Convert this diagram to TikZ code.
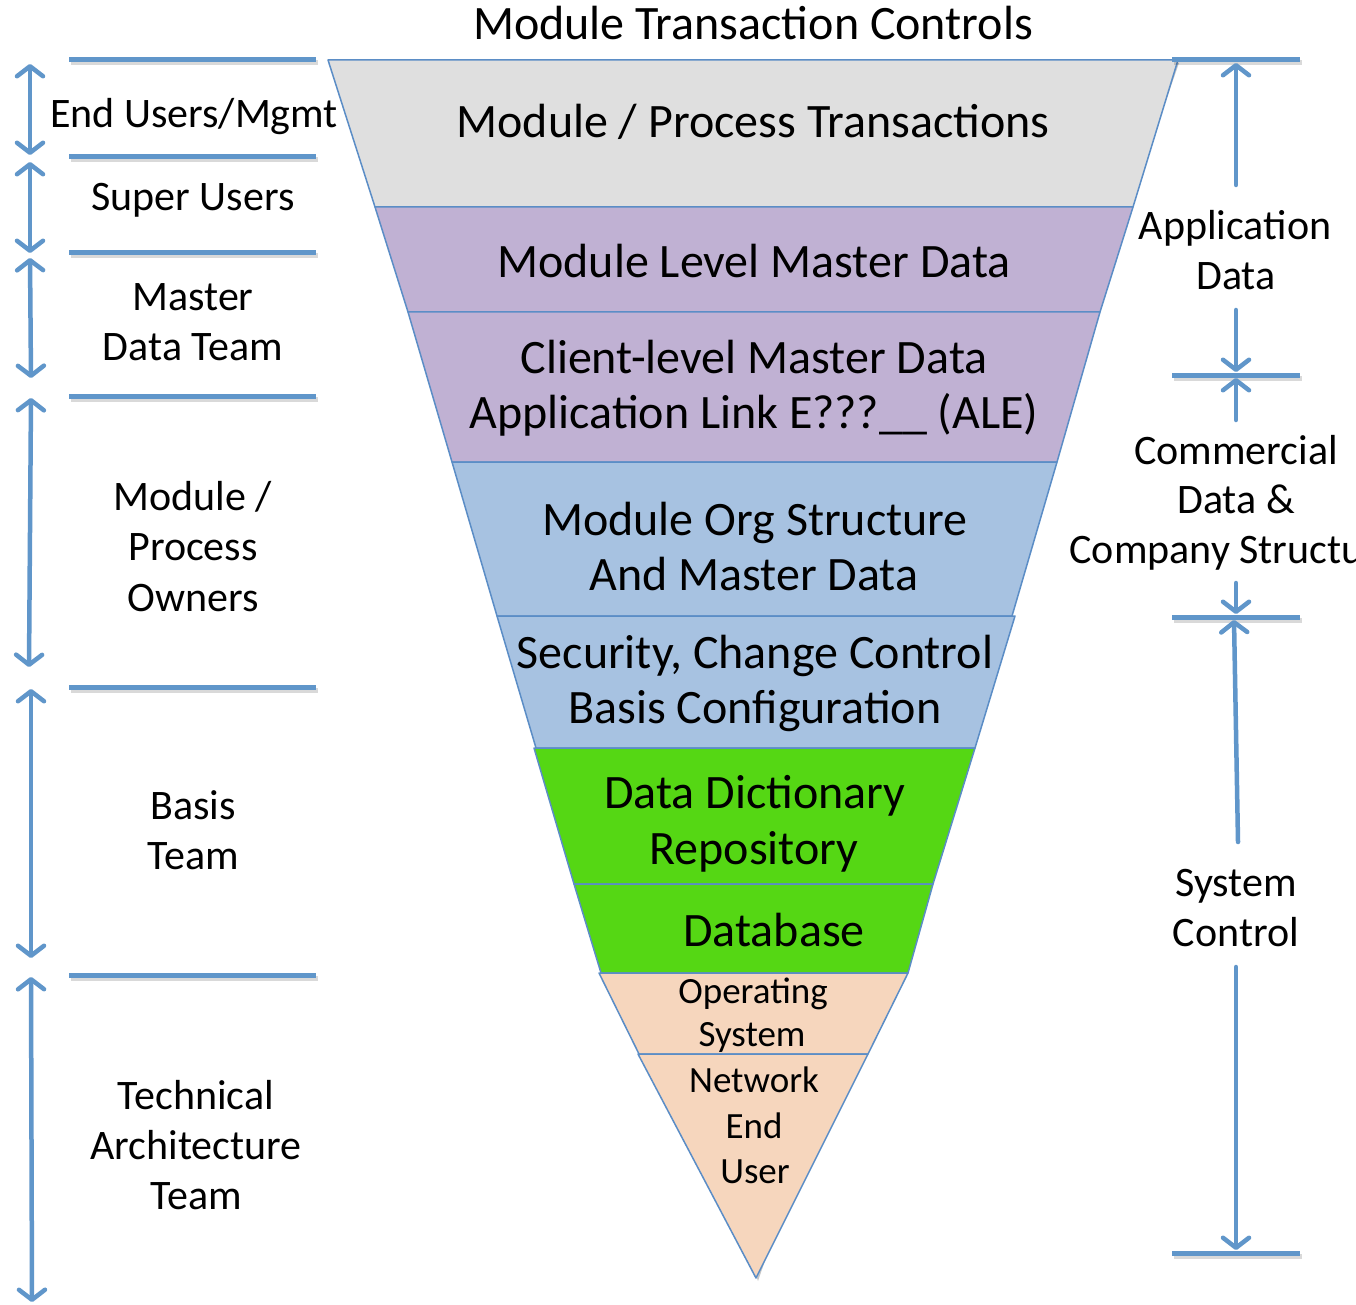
\documentclass[tikz,border=0pt]{standalone}
\usepackage{fontspec}
\setmainfont{Carlito}
\usetikzlibrary{arrows.meta}
\definecolor{lineblue}{HTML}{6096CA}
\definecolor{edgeblue}{HTML}{5B8DC6}
\definecolor{layergray}{HTML}{DFDFDF}
\definecolor{layerpurple}{HTML}{C0B1D3}
\definecolor{layerblue}{HTML}{A7C2E1}
\definecolor{layergreen}{HTML}{55D714}
\definecolor{layerpeach}{HTML}{F6D6BD}
\tikzset{
  layer/.style={draw=edgeblue, line width=1.5pt, line join=round},
  bar/.style={draw=lineblue, line width=5pt},
  barshade/.style={draw=black, opacity=0.15, line width=5pt},
  dimline/.style={draw=lineblue, line width=4.5pt, line cap=round},
  big/.style={anchor=base, inner sep=0pt, font=\fontsize{48}{56}\selectfont},
  side/.style={anchor=base, inner sep=0pt, font=\fontsize{42}{50}\selectfont},
  small/.style={anchor=base, inner sep=0pt, font=\fontsize{37}{45}\selectfont},
  >={Straight Barb[length=10pt,width=26pt,line cap=round,line join=round]}
}
\begin{document}
\begin{tikzpicture}[x=1pt,y=-1pt]
\useasboundingbox (0,0) rectangle (1356,1305);
\fill[white] (0,0) rectangle (1356,1305);

% shadow of the funnel
\fill[black, opacity=0.22] (333,63) -- (1179,63) -- (758,1281) -- cycle;

% layers
\filldraw[layer, fill=layergray]   (328,60) -- (1178,60) -- (1133,207) -- (375,207) -- cycle;
\filldraw[layer, fill=layerpurple] (375,207) -- (1133,207) -- (1100,312) -- (408,312) -- cycle;
\filldraw[layer, fill=layerpurple] (408,312) -- (1100,312) -- (1057,462) -- (452,462) -- cycle;
\filldraw[layer, fill=layerblue]   (452,462) -- (1057,462) -- (1012,616) -- (497,616) -- cycle;
\filldraw[layer, fill=layerblue]   (497,616) -- (1015,616) -- (975,748) -- (536,748) -- cycle;
\filldraw[layer, fill=layergreen]  (534,748) -- (975,748) -- (933,884) -- (574,884) -- cycle;
\filldraw[layer, fill=layergreen]  (574,884) -- (933,884) -- (908,973) -- (601,973) -- cycle;
\filldraw[layer, fill=layerpeach]  (599,973) -- (908,973) -- (868,1054) -- (639,1054) -- cycle;
\filldraw[layer, fill=layerpeach]  (638,1054) -- (868,1054) -- (756,1278) -- cycle;

% title
\node[big] (title) at (753,40) {Module Transaction Controls};

% layer texts
\node[big] (t1) at (753,138) {Module / Process Transactions};
\node[big] (t2) at (754,278) {Module Level Master Data};
\node[big] (t3a) at (754,373) {Client-level Master Data};
\node[big] (t3b) at (754,428) {Application Link E???\_\_ (ALE)};
\node[big] (t4a) at (755,535) {Module Org Structure};
\node[big] (t4b) at (754,590) {And Master Data};
\node[big] (t5a) at (755,668) {Security, Change Control};
\node[big] (t5b) at (755,723) {Basis Configuration};
\node[big] (t6a) at (755,808) {Data Dictionary};
\node[big] (t6b) at (754,864) {Repository};
\node[big] (t7) at (774,946) {Database};
\node[small] (t8a) at (753,1003) {Operating};
\node[small] (t8b) at (752,1046) {System};
\node[small] (t9a) at (754,1092) {Network};
\node[small] (t9b) at (754,1138) {End};
\node[small] (t9c) at (755,1183) {User};

% left bars
\foreach \yy/\nm in {60/la,157/lb,253/lc,396/ld,687/le,975/lf}{
  \coordinate (\nm1) at (69,\yy);
  \coordinate (\nm2) at (316,\yy);
  \draw[barshade] ([shift={(2,3)}]\nm1) -- ([shift={(2,3)}]\nm2);
  \draw[bar] (\nm1) -- (\nm2);
}
% left arrows
\coordinate (a1t) at (30,64);   \coordinate (a1b) at (30,155);
\coordinate (a2t) at (30,162);  \coordinate (a2b) at (30,253);
\coordinate (a3t) at (30,258);  \coordinate (a3b) at (31,378);
\coordinate (a4t) at (31,398);  \coordinate (a4b) at (29,667);
\coordinate (a5t) at (31,689);  \coordinate (a5b) at (31,958);
\coordinate (a6t) at (31,977);  \coordinate (a6b) at (32,1302);
\foreach \nm in {a1,a2,a3,a4,a5,a6}{
  \draw[dimline, <->] (\nm t) -- (\nm b);
}

% left labels
\node[side] (l1) at (194,128) {End Users/Mgmt};
\node[side] (l2) at (193,211) {Super Users};
\node[side] (l3a) at (193,310) {Master};
\node[side] (l3b) at (193,360) {Data Team};
\node[side] (l4a) at (193,510) {Module /};
\node[side] (l4b) at (193,560) {Process};
\node[side] (l4c) at (193,611) {Owners};
\node[side] (l5a) at (193,819) {Basis};
\node[side] (l5b) at (193,869) {Team};
\node[side] (l6a) at (196,1109) {Technical};
\node[side] (l6b) at (196,1159) {Architecture};
\node[side] (l6c) at (196,1209) {Team};

% right bars
\foreach \yy/\nm in {60/ra,375/rb,617/rc,1253/rd}{
  \coordinate (\nm1) at (1172,\yy);
  \coordinate (\nm2) at (1300,\yy);
  \draw[barshade] ([shift={(2,3)}]\nm1) -- ([shift={(2,3)}]\nm2);
  \draw[bar] (\nm1) -- (\nm2);
}
% right arrows
\coordinate (b1s) at (1236,185); \coordinate (b1e) at (1236,63);
\coordinate (b2s) at (1236,310); \coordinate (b2e) at (1236,372);
\coordinate (b3s) at (1236,420); \coordinate (b3e) at (1236,378);
\coordinate (b4s) at (1236,583); \coordinate (b4e) at (1236,614);
\coordinate (b5s) at (1238,842); \coordinate (b5e) at (1234,620);
\coordinate (b6s) at (1236,967); \coordinate (b6e) at (1236,1250);
\foreach \nm in {b1,b2,b3,b4,b5,b6}{
  \draw[dimline, ->] (\nm s) -- (\nm e);
}

% right labels
\node[side] (r1a) at (1235,240) {Application};
\node[side] (r1b) at (1236,290) {Data};
\node[side] (r2a) at (1236,464) {Commercial};
\node[side] (r2b) at (1236,513) {Data \&};
\node[side] (r2c) at (1234,563) {Company Structure};
\node[side] (r3a) at (1236,896) {System};
\node[side] (r3b) at (1236,946) {Control};
\end{tikzpicture}
\end{document}
